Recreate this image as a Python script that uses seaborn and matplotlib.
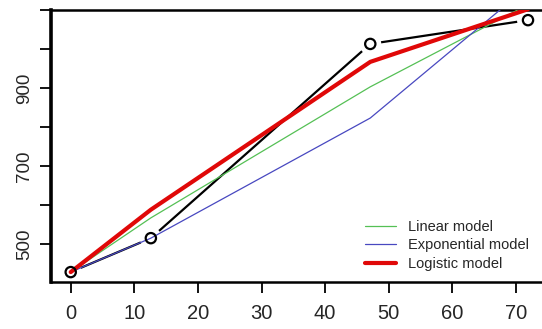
import numpy as np
import pandas as pd
import matplotlib
matplotlib.use('Agg')
import matplotlib.pyplot as plt
import seaborn as sns

days = [0, 12.6, 47.1, 71.9]
observed = [428, 515, 1013, 1074]
linear_fit = [428, 567, 903, 1114]
expo_fit = [428, 515, 823, 1160]
logistic_fit = [428, 588, 967, 1102]

y_ticks = [500, 600, 700, 800, 900, 1000, 1100]
y_labels = ['500', '', '700', '', '900', '', '']
x_ticks = [0, 10, 20, 30, 40, 50, 60, 70]

sns.set_style('ticks')
plt.rcParams['font.family'] = ['Liberation Sans', 'DejaVu Sans']

fig = plt.figure(figsize=(5.42, 3.29), dpi=100)
ax = fig.add_axes([51 / 542, 1 - 282 / 329, 1 - 51 / 542, (282 - 10) / 329])

# observed series, R type="b": line with gaps around the points
sns.lineplot(x=days, y=observed, color='black', lw=1.6, ax=ax, legend=False, zorder=1)
sns.scatterplot(x=days, y=observed, s=250, color='white', edgecolor='none', ax=ax, legend=False, zorder=2)

sns.lineplot(x=days, y=linear_fit, color='#55c055', lw=0.9, ax=ax, label='Linear model', zorder=3)
sns.lineplot(x=days, y=expo_fit, color='#4848c0', lw=0.9, ax=ax, label='Exponential model', zorder=3)
sns.lineplot(x=days, y=logistic_fit, color='#e00808', lw=3.0, ax=ax, label='Logistic model', zorder=4)

sns.scatterplot(x=days, y=observed, s=55, facecolor='none', edgecolor='black', linewidth=1.6,
                ax=ax, legend=False, zorder=5)

ax.set_xlim(-3.1, 74.1)
ax.set_ylim(402.6, 1100)
ax.set_xticks(x_ticks)
ax.set_yticks(y_ticks)
ax.set_yticklabels(y_labels, rotation=90, va='center')
ax.tick_params(axis='both', direction='out', length=8, width=1.3, color='black')
ax.tick_params(axis='x', pad=8, labelsize=14.5)
ax.tick_params(axis='y', pad=5, labelsize=13.5)

ax.spines['right'].set_visible(False)
for side in ['left', 'bottom', 'top']:
    ax.spines[side].set_linewidth(1.8)
    ax.spines[side].set_color('black')
ax.spines['left'].set_linewidth(2.6)

ax.legend(loc='lower left', bbox_to_anchor=(0.628, 0.02), frameon=False, fontsize=10.5,
          handlelength=2.1, handletextpad=0.85, labelspacing=0.3, borderaxespad=0)

fig.savefig('out.png', dpi=100)
